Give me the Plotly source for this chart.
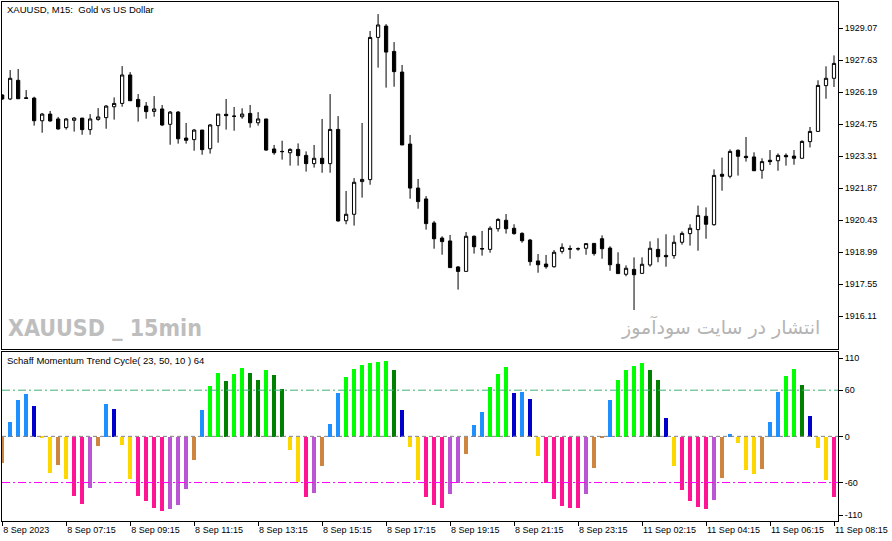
"""
XAUUSD M15 candles with the Schaff Momentum Trend Cycle histogram underneath,
drawn in the MetaTrader 5 look (white background, black candles, coloured bars).
"""

import plotly.graph_objects as go

# 1. candles, 8 Sep 2023 05:15 .. 11 Sep 2023 08:15 (105 bars)
bar_open = [
    1926.07, 1925.89, 1926.73, 1925.94, 1925.93, 1924.91, 1925.21, 1924.99, 1924.60, 1924.93,
    1925.03, 1924.51, 1924.97, 1925.05, 1925.54, 1925.69, 1926.97, 1925.87, 1925.57, 1925.33,
    1925.44, 1924.75, 1925.30, 1924.13, 1924.06, 1924.49, 1923.65, 1924.69, 1925.20, 1925.12,
    1925.09, 1925.24, 1924.82, 1924.99, 1923.64, 1923.53, 1923.47, 1923.62, 1923.35, 1922.98,
    1923.22, 1922.98, 1924.52, 1920.41, 1920.70, 1922.17, 1922.26, 1928.66, 1929.17, 1928.03,
    1927.10, 1923.86, 1921.88, 1921.39, 1920.31, 1919.63, 1919.50, 1918.33, 1918.13, 1919.71,
    1919.16, 1919.12, 1920.05, 1920.43, 1920.07, 1919.84, 1919.54, 1918.60, 1918.46, 1918.34,
    1919.03, 1919.16, 1919.14, 1919.17, 1919.39, 1919.60, 1919.18, 1918.45, 1918.00, 1918.22,
    1918.04, 1918.42, 1919.12, 1918.85, 1918.84, 1919.44, 1919.83, 1920.01, 1920.61, 1920.23,
    1922.50, 1922.41, 1923.58, 1923.31, 1923.28, 1922.68, 1923.13, 1923.11, 1923.35, 1923.32,
    1923.22, 1923.97, 1924.43, 1926.49, 1926.82,
]
bar_high = [
    1926.10, 1927.19, 1927.24, 1926.29, 1925.99, 1925.26, 1925.35, 1925.08, 1925.03, 1925.08,
    1925.03, 1925.21, 1925.48, 1925.62, 1925.96, 1927.37, 1927.10, 1926.11, 1925.75, 1926.02,
    1925.62, 1925.35, 1925.35, 1924.81, 1924.54, 1924.49, 1924.76, 1925.21, 1925.89, 1925.53,
    1925.47, 1925.62, 1925.30, 1924.99, 1923.82, 1924.01, 1923.67, 1923.89, 1923.53, 1923.82,
    1924.99, 1926.11, 1925.12, 1921.75, 1922.33, 1924.81, 1928.95, 1929.71, 1929.26, 1928.45,
    1927.42, 1924.27, 1922.29, 1921.52, 1920.40, 1919.71, 1919.77, 1918.37, 1919.90, 1919.75,
    1919.95, 1920.16, 1920.52, 1920.71, 1920.25, 1919.89, 1919.59, 1918.91, 1918.87, 1919.09,
    1919.39, 1919.30, 1919.21, 1919.39, 1919.39, 1919.75, 1919.26, 1918.99, 1918.40, 1918.76,
    1918.76, 1919.48, 1919.62, 1919.80, 1919.75, 1919.93, 1920.25, 1921.09, 1921.01, 1922.72,
    1923.25, 1923.62, 1923.62, 1924.18, 1923.49, 1923.22, 1923.59, 1923.44, 1923.44, 1923.59,
    1924.03, 1924.63, 1926.73, 1927.36, 1927.85,
]
bar_low = [
    1925.85, 1925.84, 1925.90, 1925.90, 1924.69, 1924.37, 1924.87, 1924.51, 1924.51, 1924.42,
    1924.28, 1924.28, 1924.91, 1924.55, 1924.96, 1925.54, 1925.81, 1924.87, 1925.00, 1925.09,
    1924.67, 1923.83, 1923.88, 1923.88, 1923.56, 1923.38, 1923.43, 1923.92, 1924.51, 1924.46,
    1925.00, 1924.60, 1924.69, 1923.56, 1923.38, 1923.16, 1922.89, 1922.89, 1922.62, 1922.80,
    1922.57, 1922.57, 1920.37, 1920.25, 1920.19, 1921.45, 1922.03, 1927.30, 1926.40, 1926.44,
    1923.82, 1921.40, 1920.95, 1920.01, 1919.15, 1918.88, 1918.30, 1917.31, 1918.13, 1918.93,
    1918.84, 1918.97, 1919.92, 1919.83, 1919.78, 1919.42, 1918.39, 1918.07, 1918.25, 1918.30,
    1918.93, 1918.70, 1919.06, 1918.88, 1918.84, 1918.70, 1918.16, 1918.03, 1917.91, 1916.39,
    1918.04, 1918.34, 1918.54, 1918.34, 1918.70, 1919.33, 1919.29, 1919.06, 1919.60, 1920.19,
    1921.76, 1922.32, 1922.44, 1923.07, 1922.66, 1922.30, 1922.92, 1922.66, 1922.89, 1922.93,
    1923.22, 1923.71, 1924.43, 1925.90, 1926.43,
]
bar_close = [
    1925.89, 1926.82, 1925.90, 1925.92, 1924.91, 1925.21, 1924.90, 1924.54, 1924.99, 1925.03,
    1924.51, 1924.99, 1925.08, 1925.57, 1925.69, 1926.97, 1925.81, 1925.54, 1925.32, 1925.44,
    1924.72, 1925.30, 1924.10, 1924.03, 1924.49, 1923.61, 1924.72, 1925.21, 1925.14, 1925.11,
    1925.21, 1924.82, 1924.99, 1923.59, 1923.47, 1923.52, 1923.62, 1923.34, 1922.98, 1923.22,
    1922.98, 1924.52, 1920.40, 1920.70, 1922.14, 1922.27, 1928.66, 1929.22, 1928.00, 1927.12,
    1923.82, 1921.88, 1921.27, 1920.28, 1919.60, 1919.47, 1918.30, 1918.13, 1919.71, 1919.24,
    1919.14, 1920.07, 1920.47, 1920.05, 1919.83, 1919.51, 1918.57, 1918.43, 1918.34, 1918.99,
    1919.21, 1919.13, 1919.15, 1919.38, 1918.93, 1919.15, 1918.43, 1918.03, 1918.27, 1917.98,
    1918.45, 1919.17, 1918.79, 1918.79, 1919.44, 1919.84, 1920.07, 1920.65, 1920.25, 1922.45,
    1922.41, 1923.53, 1923.31, 1923.25, 1922.66, 1923.07, 1923.07, 1923.35, 1923.29, 1923.22,
    1923.98, 1924.43, 1926.50, 1926.82, 1927.49,
]

# 2. Schaff Momentum Trend Cycle( 23, 50, 10 ) histogram
stc_value = [
    -34, 18.5, 48, 56, 40, -1.7, -47, -37, -55, -77,
    -87, -67, -12.5, 43, 36.5, -11, -55, -77, -84, -92.5,
    -96, -94.6, -88.6, -68, -30.5, 34, 66, 83, 72, 82,
    89.5, 83, 74, 87, 80, 62, -17, -58.5, -79, -72.7,
    -37.8, 15.9, 57.2, 77.8, 88.2, 93.3, 95.9, 97.2, 98.5, 86.9,
    34, -13.3, -55.9, -77.8, -88.2, -93.3, -74, -60.6, -22.4, 14.6,
    31.4, 65, 81.7, 90.8, 57.2, 58.5, 49.5, -25, -60.2, -80.4,
    -89.9, -92.5, -93.3, -74, -40.4, -1.7, 48.2, 74, 86.9, 92,
    95.9, 86.9, 74, 24, -37.8, -68.8, -83, -90.8, -94.6, -81.7,
    -53.3, 3, -8.6, -43, -48.2, -41.7, 18.5, 58.5, 79, 88.2,
    67.5, 26.2, -14.6, -55.9, -77.8,
]
# bar state: L up strong, G up strong falling, D up rising, B up falling,
# Y down falling, P down rising, K down strong, O down strong rising
stc_state = list("".join("""
    PDDDB YYPYK KOPDB YYKKK KOOOP DLLGL LGGLG GYYKO PDDLL LLLLG
    BYYKK KOOPD DLLLB DBYKK KKKOP PDLLL LGGBY KKKKO PDYYY PDDLL
    GBYYK""".split()))
stc_levels = [60, 0, -60]

# 3. axis labels
time_labels = [
    "8 Sep 2023", "8 Sep 07:15", "8 Sep 09:15", "8 Sep 11:15", "8 Sep 13:15",
    "8 Sep 15:15", "8 Sep 17:15", "8 Sep 19:15", "8 Sep 21:15", "8 Sep 23:15",
    "11 Sep 02:15", "11 Sep 04:15", "11 Sep 06:15", "11 Sep 08:15",
]
price_ticks = [1929.07, 1927.63, 1926.19, 1924.75, 1923.31,
               1921.87, 1920.43, 1918.99, 1917.55, 1916.11]
stc_tick_labels = ["110", "60", "0", "-60", "-110"]

state_colors = {
    "L": "#00FF00", "G": "#008000", "D": "#1E90FF", "B": "#0000CD",
    "Y": "#FFD700", "P": "#CD853F", "K": "#FF1493", "O": "#BA55D3",
}
level_styles = {
    60: dict(color="#3CB371", dash="8px,3px,2px,3px"),
    0: dict(color="#808080", dash="4px,3px"),
    -60: dict(color="#FF00FF", dash="8px,3px,2px,3px"),
}

bars = list(range(len(bar_close)))
font_ui = "Liberation Sans, Arial, sans-serif"

fig = go.Figure()

fig.add_trace(go.Candlestick(
    x=bars, open=bar_open, high=bar_high, low=bar_low, close=bar_close,
    xaxis="x", yaxis="y",
    increasing=dict(line=dict(color="black", width=1), fillcolor="white"),
    decreasing=dict(line=dict(color="black", width=1), fillcolor="black"),
    whiskerwidth=0, showlegend=False, hoverinfo="skip",
))

fig.add_trace(go.Bar(
    x=bars, y=stc_value, xaxis="x2", yaxis="y2", width=0.5,
    marker=dict(color=[state_colors[s] for s in stc_state], line=dict(width=0)),
    showlegend=False, hoverinfo="skip",
))

# level lines of the indicator window
for lvl in stc_levels:
    fig.add_shape(type="line", xref="x2 domain", yref="y2", x0=0, x1=1, y0=lvl, y1=lvl,
                  line=dict(width=1, **level_styles[lvl]), layer="above")

axis_common = dict(showline=True, mirror=True, linecolor="black", linewidth=1,
                   showgrid=False, zeroline=False,
                   tickfont=dict(family=font_ui, size=9, color="black"))

fig.update_layout(
    width=892, height=541,
    margin=dict(l=2, r=54, t=2, b=20),
    paper_bgcolor="white", plot_bgcolor="white",
    boxgap=0.42, bargap=0,
    xaxis=dict(domain=[0, 1], anchor="y", range=[-0.02, 104.5],
               showticklabels=False, ticks="", rangeslider=dict(visible=False),
               **axis_common),
    xaxis2=dict(domain=[0, 1], anchor="y2", range=[-0.02, 104.5], matches="x",
                tickvals=bars[::8], ticktext=time_labels,
                ticks="outside", ticklen=4, tickcolor="black",
                ticklabelposition="outside right", **axis_common),
    yaxis=dict(domain=[0.3314, 1], anchor="x", side="right",
               range=[1914.637, 1930.254], tickvals=price_ticks,
               ticktext=[f"{p:.2f}" for p in price_ticks],
               ticks="outside", ticklen=4, tickcolor="black", **axis_common),
    yaxis2=dict(domain=[0, 0.3262], anchor="x2", side="right", range=[-110, 110],
                tickvals=[101.5, 60, 0, -60, -102.5], ticktext=stc_tick_labels,
                ticks="outside", ticklen=4, tickcolor="black", **axis_common),
)

# texts drawn on the chart
fig.add_annotation(text="XAUUSD, M15:  Gold vs US Dollar", xref="paper", yref="paper",
                   x=0.004, y=0.985, xanchor="left", yanchor="middle", showarrow=False,
                   font=dict(family=font_ui, size=9.5, color="black"))
fig.add_annotation(text="Schaff Momentum Trend Cycle( 23, 50, 10 ) 64", xref="paper", yref="paper",
                   x=0.004, y=0.310, xanchor="left", yanchor="middle", showarrow=False,
                   font=dict(family=font_ui, size=9.5, color="black"))
fig.add_annotation(text="<b>XAUUSD _ 15min</b>", xref="paper", yref="paper",
                   x=0.005, y=0.372, xanchor="left", yanchor="middle", showarrow=False,
                   font=dict(family="DejaVu Sans Condensed, Liberation Sans Narrow, sans-serif",
                             size=23, color="#BEBEBE"))
fig.add_annotation(text="انتشار در سایت سودآموز", xref="paper", yref="paper",
                   x=0.981, y=0.374, xanchor="right", yanchor="middle", showarrow=False,
                   font=dict(family="DejaVu Sans, sans-serif", size=19, color="#B4B4B4"))

# the page body keeps no margin, so the figure sits at the window corner
fig.write_html("out.html", config={"displayModeBar": False},
               post_script="document.body.style.margin='0px';")
